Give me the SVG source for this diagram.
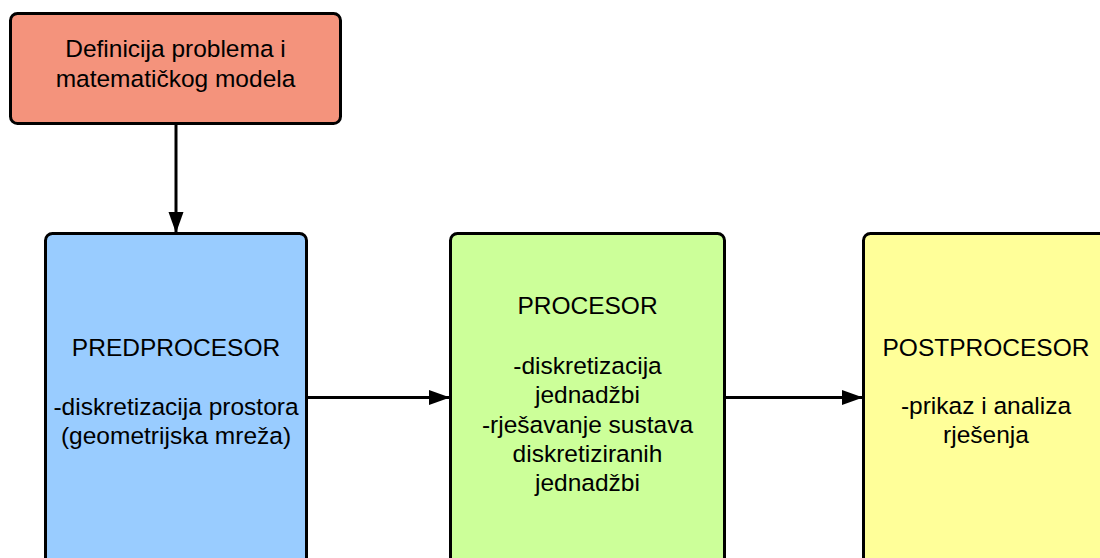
<svg xmlns="http://www.w3.org/2000/svg" width="1100" height="558" viewBox="0 0 1100 558">
<style>
.box{stroke:#000;stroke-width:3}
.t{font-family:"Liberation Sans",Arial,sans-serif;font-size:24.5px;fill:#000;text-anchor:middle}
.c{stroke:#000;stroke-width:3;fill:none}
</style>
<defs>
<marker id="ah" markerUnits="userSpaceOnUse" markerWidth="22" markerHeight="16" refX="21" refY="7.5" orient="auto">
<path d="M0,0 L21,7.5 L0,15 Z" fill="#000"/>
</marker>
</defs>
<rect width="1100" height="558" fill="#fff"/>
<g id="connectors">
<line class="c" x1="176" y1="124" x2="176" y2="233" marker-end="url(#ah)"/>
<line class="c" x1="306" y1="397.5" x2="450" y2="397.5" marker-end="url(#ah)"/>
<line class="c" x1="725" y1="397.5" x2="863" y2="397.5" marker-end="url(#ah)"/>
</g>
<g id="definicija">
<rect class="box" x="10.5" y="13.5" width="330" height="110" rx="7" fill="#F4937C"/>
<text class="t" x="175.5" y="56.5">Definicija problema i</text>
<text class="t" x="175.5" y="86.5">matematičkog modela</text>
</g>
<g id="predprocesor">
<rect class="box" x="45.5" y="233.5" width="261" height="360" rx="7" fill="#99CCFF"/>
<text class="t" x="176" y="355.5">PREDPROCESOR</text>
<text class="t" x="176" y="414.5">-diskretizacija prostora</text>
<text class="t" x="176" y="443.5">(geometrijska mreža)</text>
</g>
<g id="procesor">
<rect class="box" x="450.5" y="233.5" width="274" height="360" rx="7" fill="#CCFF99"/>
<text class="t" x="587.5" y="314">PROCESOR</text>
<text class="t" x="587.5" y="373.5">-diskretizacija</text>
<text class="t" x="587.5" y="403">jednadžbi</text>
<text class="t" x="587.5" y="432.5">-rješavanje sustava</text>
<text class="t" x="587.5" y="462">diskretiziranih</text>
<text class="t" x="587.5" y="491">jednadžbi</text>
</g>
<g id="postprocesor">
<rect class="box" x="863.5" y="233.5" width="300" height="360" rx="7" fill="#FFFF99"/>
<text class="t" x="986" y="355.5">POSTPROCESOR</text>
<text class="t" x="986" y="414">-prikaz i analiza</text>
<text class="t" x="986" y="443">rješenja</text>
</g>
</svg>
